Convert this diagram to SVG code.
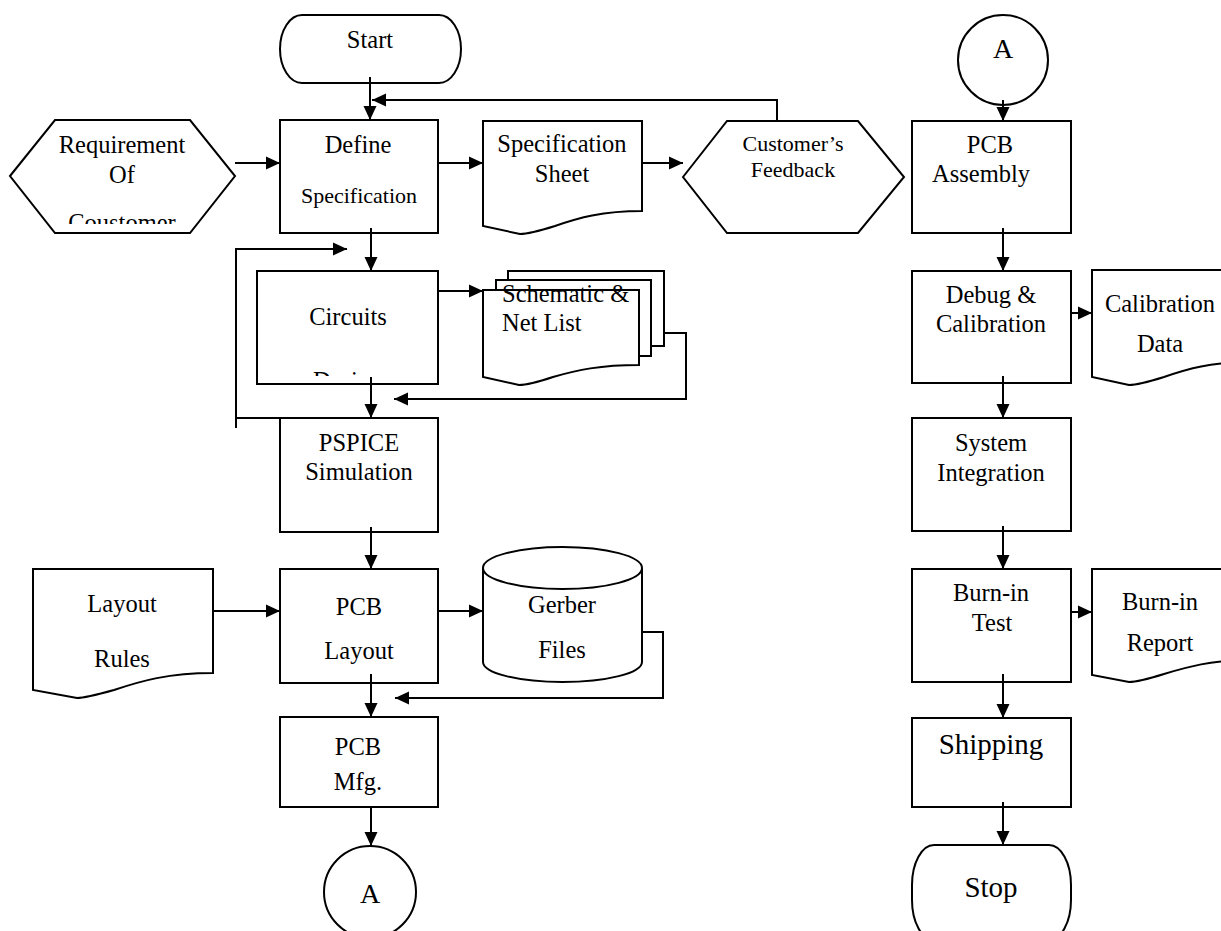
<svg xmlns="http://www.w3.org/2000/svg" width="1221" height="931" viewBox="0 0 1221 931">
<style>
.s{fill:#fff;stroke:#000;stroke-width:2}
.t{font-family:"Liberation Serif","Times New Roman",serif;font-size:24.5px;fill:#000;text-anchor:middle}
.sm{font-size:22px}
.lg{font-size:29px}
.st{text-anchor:start}
.c{fill:none;stroke:#000;stroke-width:2}
</style>
<defs>
<marker id="ah" markerUnits="userSpaceOnUse" markerWidth="14" markerHeight="14" viewBox="0 0 14 14" refX="14" refY="7" orient="auto">
<path d="M0,0.5 L14,7 L0,13.5 Z" fill="#000"/>
</marker>
<clipPath id="clipReq"><rect x="0" y="100" width="250" height="124"/></clipPath>
<clipPath id="clipCirc"><rect x="257" y="271" width="181" height="105"/></clipPath>
</defs>
<rect width="1221" height="931" fill="#fff"/>

<g id="start"><rect class="s" x="280" y="15" width="181" height="68" rx="22" ry="34"/><text class="t" x="370" y="48">Start</text></g>
<g id="requirement"><polygon class="s" points="10,176 55,120 190,120 235,176 190,233 55,233"/>
<g clip-path="url(#clipReq)"><text class="t" x="122" y="153">Requirement</text><text class="t" x="122" y="183">Of</text><text class="t" x="122" y="231">Coustomer</text></g></g>
<g id="define"><rect class="s" x="280" y="120" width="158" height="113"/><text class="t" x="358" y="153">Define</text><text class="t sm" x="359" y="203">Specification</text></g>
<g id="specsheet"><path class="s" d="M483,121 H642 V211 C602,211 578,218 555,226 C539,231 528,234 520,234 L483,226 Z"/><text class="t" x="562" y="152">Specification</text><text class="t" x="562" y="182">Sheet</text></g>
<g id="feedback"><polygon class="s" points="683,177 727,121 858,121 904,177 858,233 727,233"/><text class="t sm" x="793" y="151">Customer’s</text><text class="t sm" x="793" y="177">Feedback</text></g>
<g id="circuits"><rect class="s" x="257" y="271" width="181" height="113"/><text class="t" x="348" y="325">Circuits</text><g clip-path="url(#clipCirc)"><text class="t st" x="313" y="389">Design</text></g></g>
<g id="schematic"><rect class="s" x="508" y="271" width="156" height="75"/><rect class="s" x="496" y="280" width="155" height="76"/><path class="s" d="M483,290 H639 V365 C600,365 577,370 553,377 C538,382 527,385 519,385 L483,377 Z"/><text class="t st" x="502" y="302">Schematic &amp;</text><text class="t st" x="502" y="331">Net List</text></g>
<g id="pspice"><rect class="s" x="280" y="418" width="158" height="114"/><text class="t" x="359" y="451">PSPICE</text><text class="t" x="359" y="480">Simulation</text></g>
<g id="layoutrules"><path class="s" d="M33,569 H213 V673 C168,673 141,681 114,690 C96,695 85,698 77,698 L33,690 Z"/><text class="t" x="122" y="612">Layout</text><text class="t" x="122" y="667">Rules</text></g>
<g id="pcblayout"><rect class="s" x="280" y="569" width="158" height="114"/><text class="t" x="359" y="615">PCB</text><text class="t" x="359" y="659">Layout</text></g>
<g id="gerber"><path class="s" d="M483,568 V662 A79.5,20 0 0 0 642,662 V568"/><ellipse class="s" cx="562.5" cy="568" rx="79.5" ry="21"/><text class="t" x="562" y="613">Gerber</text><text class="t" x="562" y="658">Files</text></g>
<g id="pcbmfg"><rect class="s" x="280" y="717" width="158" height="90"/><text class="t" x="358" y="755">PCB</text><text class="t" x="358" y="790">Mfg.</text></g>
<g id="connA1"><circle class="s" cx="370" cy="892" r="46"/><text class="t" x="370" y="903" style="font-size:28px">A</text></g>

<g id="connA2"><circle class="s" cx="1003" cy="60" r="45"/><text class="t" x="1003" y="58" style="font-size:28px">A</text></g>
<g id="assembly"><rect class="s" x="912" y="121" width="159" height="112"/><text class="t" x="990" y="153">PCB</text><text class="t" x="981" y="182">Assembly</text></g>
<g id="debug"><rect class="s" x="912" y="271" width="159" height="112"/><text class="t" x="991" y="303">Debug &amp;</text><text class="t" x="991" y="332">Calibration</text></g>
<g id="caldata"><path class="s" d="M1092,270 H1251 V362 C1211,362 1187,369 1164,377 C1148,382 1137,385 1129,385 L1092,377 Z"/><text class="t" x="1160" y="312">Calibration</text><text class="t" x="1160" y="352">Data</text></g>
<g id="system"><rect class="s" x="912" y="418" width="159" height="113"/><text class="t" x="991" y="451">System</text><text class="t" x="991" y="481">Integration</text></g>
<g id="burnin"><rect class="s" x="912" y="569" width="159" height="113"/><text class="t" x="991" y="601">Burn-in</text><text class="t" x="992" y="631">Test</text></g>
<g id="burnreport"><path class="s" d="M1092,569 H1251 V660 C1211,660 1187,667 1164,674 C1148,679 1137,682 1129,682 L1092,675 Z"/><text class="t" x="1160" y="610">Burn-in</text><text class="t" x="1160" y="651">Report</text></g>
<g id="shipping"><rect class="s" x="912" y="718" width="159" height="89"/><text class="t lg" x="991" y="754">Shipping</text></g>
<g id="stop"><rect class="s" x="912" y="845" width="159" height="95" rx="22" ry="40"/><text class="t lg" x="991" y="897">Stop</text></g>

<g id="connectors">
<path class="c" d="M370,77 V120" marker-end="url(#ah)"/>
<path class="c" d="M777,122 V100 H372" marker-end="url(#ah)"/>
<path class="c" d="M235,163 H280" marker-end="url(#ah)"/>
<path class="c" d="M438,163 H483" marker-end="url(#ah)"/>
<path class="c" d="M642,163 H683" marker-end="url(#ah)"/>
<path class="c" d="M371,228 V271" marker-end="url(#ah)"/>
<path class="c" d="M236,428 V249 H347" marker-end="url(#ah)"/>
<path class="c" d="M280,418 H236"/>
<path class="c" d="M438,291 H483" marker-end="url(#ah)"/>
<path class="c" d="M664,333 H686 V399 H394" marker-end="url(#ah)"/>
<path class="c" d="M371,377 V418" marker-end="url(#ah)"/>
<path class="c" d="M371,527 V569" marker-end="url(#ah)"/>
<path class="c" d="M213,611 H280" marker-end="url(#ah)"/>
<path class="c" d="M438,611 H483" marker-end="url(#ah)"/>
<path class="c" d="M642,632 H663 V698 H395" marker-end="url(#ah)"/>
<path class="c" d="M371,674 V717" marker-end="url(#ah)"/>
<path class="c" d="M371,807 V846" marker-end="url(#ah)"/>
<path class="c" d="M1003,100 V121" marker-end="url(#ah)"/>
<path class="c" d="M1003,228 V271" marker-end="url(#ah)"/>
<path class="c" d="M1071,313 H1092" marker-end="url(#ah)"/>
<path class="c" d="M1003,376 V418" marker-end="url(#ah)"/>
<path class="c" d="M1003,526 V569" marker-end="url(#ah)"/>
<path class="c" d="M1071,612 H1092" marker-end="url(#ah)"/>
<path class="c" d="M1003,674 V718" marker-end="url(#ah)"/>
<path class="c" d="M1003,802 V845" marker-end="url(#ah)"/>
</g>
</svg>
